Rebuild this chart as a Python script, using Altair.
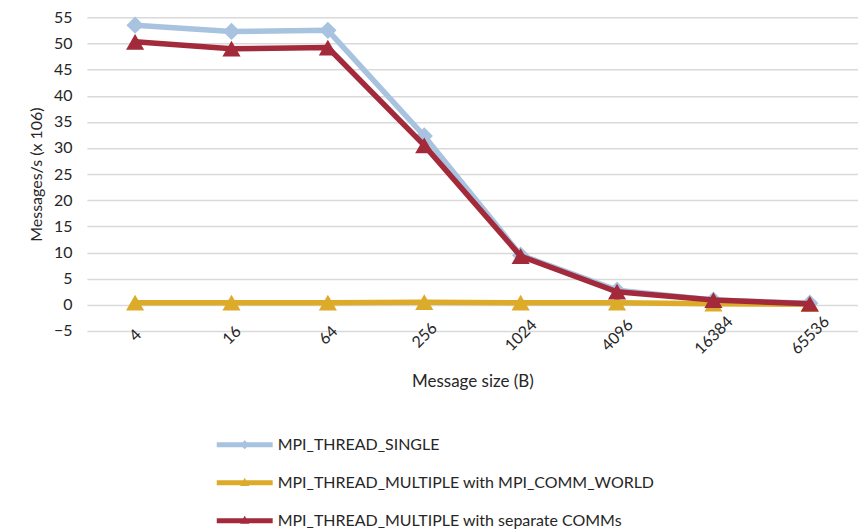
import altair as alt
import pandas as pd

sizes = ["4", "16", "64", "256", "1024", "4096", "16384", "65536"]
single = [53.5, 52.3, 52.5, 32.3, 9.5, 2.8, 0.9, 0.3]
comm_world = [0.4, 0.4, 0.4, 0.5, 0.4, 0.4, 0.2, 0.1]
separate = [50.3, 49.0, 49.2, 30.5, 9.3, 2.5, 0.9, 0.2]

series = [
    "MPI_THREAD_SINGLE",
    "MPI_THREAD_MULTIPLE with MPI_COMM_WORLD",
    "MPI_THREAD_MULTIPLE with separate COMMs",
]
colors = ["#a7c3df", "#ddab2a", "#a32a3b"]
shapes = ["diamond", "triangle-up", "triangle-up"]
marker_sizes = [300, 330, 330]

rows = []
for name, vals in zip(series, [single, comm_world, separate]):
    for s, v in zip(sizes, vals):
        rows.append({"size": s, "value": v, "series": name})
df = pd.DataFrame(rows)

FONT = "Lato"
TEXT = "#262626"

bar = "M-4,-0.36 L4,-0.36 L4,0.36 L-4,0.36 Z "
diamond_path = bar + "M0,-0.65 L0.65,0 L0,0.65 L-0.65,0 Z"
tri_path = bar + "M0,-0.7 L0.65,0.45 L-0.65,0.45 Z"
legend_paths = [diamond_path, tri_path, tri_path]

legend = alt.Legend(
    orient="none",
    legendX=150,
    legendY=420,
    title=None,
    symbolSize=196,
    symbolStrokeWidth=0,
    symbolOpacity=1,
    labelOffset=25,
    rowPadding=22,
    labelFont=FONT,
    labelFontSize=16,
    labelColor=TEXT,
    labelLimit=600,
)

x_enc = alt.X(
    "size:O",
    sort=sizes,
    scale=alt.Scale(type="point", padding=0.5),
    axis=alt.Axis(
        title="Message size (B)",
        labelAngle=-45,
        labelAlign="center",
        labelBaseline="middle",
        labelPadding=4,
        labelOverlap=False,
        labelFontSize=16,
        ticks=False,
        domain=False,
        grid=False,
        titlePadding=17,
        titleFontSize=17,
    ),
)
y_enc = alt.Y(
    "value:Q",
    scale=alt.Scale(domain=[-5, 55], nice=False, zero=False),
    axis=alt.Axis(
        title="Messages/s (x 106)",
        values=list(range(-5, 56, 5)),
        ticks=False,
        domain=False,
        labelPadding=15,
        labelFontSize=16,
        titlePadding=9,
        titleFontSize=16,
        gridColor="#d9d9d9",
        gridWidth=1.5,
    ),
)
color_scale = alt.Scale(domain=series, range=colors)
color_enc = alt.Color("series:N", scale=color_scale, sort=series, legend=None)

layers = []
for i, name in enumerate(series):
    base = alt.Chart(df).transform_filter(alt.datum.series == name)
    layers.append(
        base.mark_line(strokeWidth=5.5).encode(x=x_enc, y=y_enc, color=color_enc)
    )
    layers.append(
        base.mark_point(shape=shapes[i], filled=True, size=marker_sizes[i], opacity=1).encode(
            x=x_enc, y=y_enc, color=color_enc
        )
    )

legend_layer = (
    alt.Chart(df)
    .mark_point(filled=True, size=0)
    .encode(
        x=x_enc,
        y=y_enc,
        color=alt.Color("series:N", scale=color_scale, sort=series, legend=legend),
        shape=alt.Shape(
            "series:N",
            scale=alt.Scale(domain=series, range=legend_paths),
            sort=series,
            legend=legend,
        ),
    )
)
layers.insert(0, legend_layer)

chart = (
    alt.layer(*layers)
    .properties(width=772, height=314, padding={"left": 20, "top": 1, "right": 0, "bottom": 0})
    .configure_view(stroke=None)
    .configure_axis(
        labelFont=FONT,
        labelColor=TEXT,
        titleFont=FONT,
        titleFontWeight="normal",
        titleColor=TEXT,
    )
)

chart.save("out.html", embed_options={"renderer": "svg", "actions": False})
